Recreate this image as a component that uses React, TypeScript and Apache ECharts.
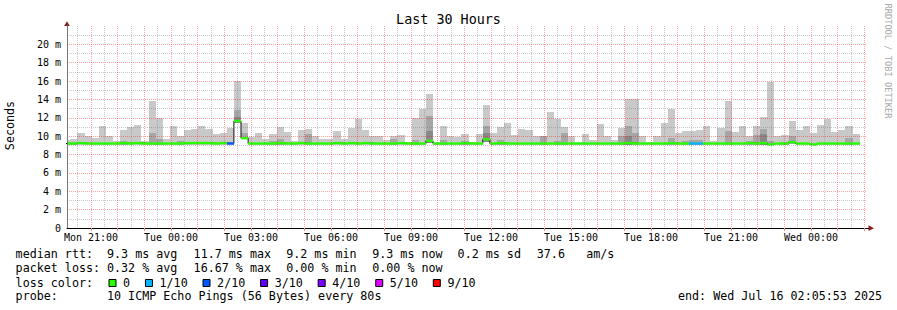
import React, { useEffect, useRef } from "react";
import * as echarts from "echarts";

// time axis in minutes since Mon 00:00
const START = 1205.883; // Mon 20:05:53
const END = START + 1800; // Wed 02:05:53
const STEP = 16; // minutes per consolidated bucket
const FIRST_BUCKET = 1197.383;

const xTickTimes = [1260, 1440, 1620, 1800, 1980, 2160, 2340, 2520, 2700, 2880];
const xTickLabels = ["Mon 21:00", "Tue 00:00", "Tue 03:00", "Tue 06:00", "Tue 09:00", "Tue 12:00", "Tue 15:00", "Tue 18:00", "Tue 21:00", "Wed 00:00"];

// smoke: top of the light grey (max ping), milliseconds
const smokeMax = [
  9.6, 9.7, 10.4, 10.0, 9.8, 11.1, 10.0, 9.45, 10.7, 10.95,
  11.2, 9.5, 13.85, 12.0, 9.7, 11.1, 10.0, 10.7, 10.8, 11.1,
  10.8, 10.2, 10.4, 10.85, 16.0, 11.45, 9.9, 10.3, 9.7, 10.25,
  10.95, 10.5, 9.45, 10.7, 10.8, 10.0, 9.7, 9.7, 10.6, 9.7,
  10.9, 11.9, 10.65, 10.0, 10.0, 9.6, 10.0, 10.1, 9.4, 12.0,
  13.0, 14.6, 9.35, 11.1, 10.0, 9.9, 10.2, 9.35, 10.2, 13.4,
  10.4, 10.95, 11.4, 10.1, 10.8, 10.65, 10.0, 10.0, 12.6, 11.9,
  10.95, 10.0, 9.35, 10.25, 9.6, 11.3, 10.0, 9.6, 10.9, 14.1,
  14.05, 10.0, 9.35, 10.0, 11.45, 13.0, 10.4, 10.55, 10.6, 10.7,
  11.1, 9.45, 10.85, 13.85, 10.5, 11.1, 10.0, 11.1, 12.1, 15.9,
  10.0, 10.1, 11.7, 10.7, 11.1, 10.4, 11.2, 11.85, 10.45, 10.7,
  11.1, 10.2,
];
// top of the mid grey band (0 = none)
const smokeMid = [
  9.4, 9.4, 0, 0, 0, 0, 0, 0, 9.5, 0,
  0, 0, 10.4, 9.7, 0, 0, 9.5, 0, 0, 0,
  0, 0, 0, 0, 12.8, 10.4, 0, 0, 0, 9.5,
  9.7, 0, 0, 0, 10.2, 0, 0, 0, 0, 0,
  0, 0, 0, 0, 0, 0, 9.7, 0, 0, 9.6,
  0, 12.2, 0, 9.6, 0, 0, 9.5, 0, 0, 11.1,
  0, 9.6, 0, 0, 0, 0, 0, 10.0, 0, 9.5,
  10.4, 0, 0, 0, 0, 0, 0, 0, 10.0, 11.1,
  10.4, 0, 0, 0, 0, 9.8, 0, 9.5, 9.6, 9.6,
  0, 0, 0, 10.6, 0, 0, 9.5, 10.1, 10.8, 9.5,
  0, 9.4, 10.0, 0, 0, 0, 0, 0, 0, 0,
  9.8, 0,
];
// top of the dark grey band (0 = none)
const smokeDark = [
  0, 0, 0, 0, 0, 0, 0, 0, 0, 0,
  0, 0, 0, 0, 0, 0, 0, 0, 0, 0,
  0, 0, 0, 0, 12.1, 0, 0, 0, 0, 0,
  0, 0, 0, 0, 0, 0, 0, 0, 0, 0,
  0, 0, 0, 0, 0, 0, 0, 0, 0, 0,
  0, 10.6, 0, 0, 0, 0, 0, 0, 0, 10.4,
  0, 0, 0, 0, 0, 0, 0, 0, 0, 0,
  0, 0, 0, 0, 0, 0, 0, 0, 0, 10.0,
  0, 0, 0, 0, 0, 0, 0, 0, 0, 0,
  0, 0, 0, 0, 0, 0, 0, 0, 10.2, 0,
  0, 0, 0, 0, 0, 0, 0, 0, 0, 0,
  0, 0,
];
// bottom of the smoke (min ping)
const smokeLo = [
  9.05, 9.05, 9.05, 9.05, 9.05, 9.05, 9.05, 9.05, 9.05, 9.05,
  9.05, 9.05, 9.05, 9.05, 9.05, 9.05, 9.05, 9.05, 9.05, 9.05,
  9.05, 9.05, 9.05, 9.05, 11.4, 9.7, 9.05, 9.05, 9.05, 9.05,
  9.05, 9.05, 9.05, 9.05, 9.05, 9.05, 9.05, 9.05, 9.05, 9.05,
  9.05, 9.05, 9.05, 9.05, 9.05, 9.05, 9.05, 9.05, 9.05, 9.05,
  9.05, 9.3, 9.05, 9.05, 9.05, 9.05, 9.05, 9.05, 9.05, 9.4,
  9.05, 9.05, 9.05, 9.05, 9.05, 9.05, 9.05, 9.05, 9.05, 9.05,
  9.05, 9.05, 9.05, 9.05, 9.05, 9.05, 9.05, 9.05, 9.05, 9.05,
  9.05, 9.05, 9.05, 9.05, 9.05, 9.05, 9.05, 9.05, 9.05, 9.05,
  9.05, 9.05, 9.05, 9.05, 9.05, 9.05, 9.05, 9.05, 9.05, 9.0,
  9.05, 9.05, 9.1, 9.05, 9.05, 9.0, 9.05, 9.05, 9.05, 9.05,
  9.05, 9.05,
];
// median rtt per bucket
const median = [
  9.2, 9.2, 9.25, 9.2, 9.2, 9.2, 9.2, 9.2, 9.25, 9.2,
  9.25, 9.2, 9.2, 9.2, 9.2, 9.2, 9.2, 9.25, 9.25, 9.25,
  9.25, 9.2, 9.25, 9.2, 11.65, 9.78, 9.2, 9.2, 9.2, 9.2,
  9.25, 9.2, 9.2, 9.25, 9.2, 9.2, 9.2, 9.2, 9.25, 9.2,
  9.25, 9.2, 9.25, 9.2, 9.2, 9.2, 9.2, 9.25, 9.2, 9.2,
  9.2, 9.5, 9.2, 9.2, 9.2, 9.2, 9.25, 9.2, 9.2, 9.66,
  9.2, 9.25, 9.2, 9.2, 9.2, 9.2, 9.2, 9.2, 9.2, 9.2,
  9.2, 9.2, 9.2, 9.2, 9.2, 9.2, 9.2, 9.2, 9.2, 9.25,
  9.2, 9.2, 9.2, 9.2, 9.2, 9.25, 9.2, 9.2, 9.2, 9.2,
  9.2, 9.2, 9.2, 9.2, 9.2, 9.2, 9.25, 9.2, 9.25, 9.1,
  9.2, 9.2, 9.35, 9.2, 9.2, 9.1, 9.2, 9.2, 9.2, 9.2,
  9.2, 9.2,
];
// packet loss level index per bucket (0 = none, 1 = 1/10, 2 = 2/10 ...)
const lossLevel = [
  0, 0, 0, 0, 0, 0, 0, 0, 0, 0,
  0, 0, 0, 0, 0, 0, 0, 0, 0, 0,
  0, 0, 0, 2, 0, 0, 0, 0, 0, 0,
  0, 0, 0, 0, 0, 0, 0, 0, 0, 0,
  0, 0, 0, 0, 0, 0, 0, 0, 0, 0,
  0, 0, 0, 0, 0, 0, 0, 0, 0, 0,
  0, 0, 0, 0, 0, 0, 0, 0, 0, 0,
  0, 0, 0, 0, 0, 0, 0, 0, 0, 0,
  0, 0, 0, 0, 0, 0, 0, 0, 1, 1,
  0, 0, 0, 0, 0, 0, 0, 0, 0, 0,
  0, 0, 0, 0, 0, 0, 0, 0, 0, 0,
  0, 0,
];

const lossColors = ["#26ff00", "#00b8ff", "#0059ff", "#5e00ff", "#7e00ff", "#dd00ff", "#ff0000"];
const lossLabels = ["0", "1/10", "2/10", "3/10", "4/10", "5/10", "9/10"];

const rttStats = ["9.3 ms avg", "11.7 ms max", "9.2 ms min", "9.3 ms now", "0.2 ms sd", "37.6", "am/s"];
const lossStats = ["0.32 % avg", "16.67 % max", "0.00 % min", "0.00 % now"];
const probeText = "10 ICMP Echo Pings (56 Bytes) every 80s";
const endText = "end: Wed Jul 16 02:05:53 2025";

// layout
const MONO = '"DejaVu Sans Mono", monospace';
const LEG_FS = 11.7;
const CHAR_W = LEG_FS * 0.602;
const statCols = [107, 193.6, 286.2, 372.2, 457.6, 536.8, 586.2];
const SMOKE_LIGHT = "#c9c9c9";
const SMOKE_MID = "#a6a6a6";
const SMOKE_DARK = "#888888";
const BAND = 0.13;
const MAJOR_GRID = "rgba(255,0,0,0.36)";
const MINOR_GRID = "rgba(110,110,110,0.38)";

export default function App() {
  const ref = useRef<HTMLDivElement>(null);
  useEffect(() => {
    if (!ref.current) return;
    const chart = echarts.init(ref.current, null, { renderer: "svg" });

    const smokeData = smokeMax.map((hi, k) => [FIRST_BUCKET + k * STEP, smokeLo[k], hi, smokeMid[k], smokeDark[k]]);
    const bandData = median.map((m, k) => [FIRST_BUCKET + k * STEP, m, lossLevel[k]]);
    const lineData = median.map((m, k) => [FIRST_BUCKET + k * STEP, m]);
    lineData.push([FIRST_BUCKET + median.length * STEP, median[median.length - 1]]);

    const hourTicks: number[] = [];
    for (let t = 1260; t <= END; t += 60) hourTicks.push(t);
    const halfTicks: number[] = [];
    for (let t = 1230; t <= END; t += 60) halfTicks.push(t);

    const span = (api: any, params: any, t: number) => {
      const cs = params.coordSys;
      let x0 = api.coord([t, 0])[0];
      let x1 = api.coord([t + STEP, 0])[0];
      x0 = Math.max(x0, cs.x);
      x1 = Math.min(x1, cs.x + cs.width);
      return [Math.round(x0), Math.round(x1)];
    };

    const txt = (text: string, x: number, y: number, extra: any = {}) => ({
      type: "text",
      x,
      y,
      silent: true,
      rotation: extra.rotation || 0,
      style: {
        text,
        font: `${extra.size || LEG_FS}px ${MONO}`,
        fill: extra.fill || "#000",
        textAlign: extra.align || "left",
        textVerticalAlign: "middle",
      },
    });

    const graphics: any[] = [];
    graphics.push(txt("Last 30 Hours", 448.5, 19, { size: 13.4, align: "center" }));
    graphics.push(txt("Seconds", 10, 125.5, { rotation: Math.PI / 2, align: "center" }));
    graphics.push(txt("RRDTOOL / TOBI OETIKER", 888, 61, { rotation: -Math.PI / 2, align: "center", size: 8.7, fill: "#a9a9a9" }));
    // axis arrows
    graphics.push({ type: "polygon", silent: true, shape: { points: [[67, 21.2], [64.2, 26], [69.8, 26]] }, style: { fill: "#8b1c1c" } });
    graphics.push({ type: "polygon", silent: true, shape: { points: [[874, 228.2], [868.5, 225.3], [868.5, 231.1]] }, style: { fill: "#8b1c1c" } });
    graphics.push({ type: "line", silent: true, shape: { x1: 866.5, y1: 228.5, x2: 869, y2: 228.5 }, style: { stroke: "#000", lineWidth: 1 } });

    // legend lines
    const L1 = 254.3, L2 = 268.3, L3 = 282.6, L4 = 296.3;
    graphics.push(txt("median rtt:", 15.6, L1));
    rttStats.forEach((s, i) => graphics.push(txt(s, statCols[i], L1)));
    graphics.push(txt("packet loss:", 15.6, L2));
    lossStats.forEach((s, i) => graphics.push(txt(s, statCols[i], L2)));
    graphics.push(txt("loss color:", 15.6, L3));
    let bx = 108.5;
    lossLabels.forEach((lab, i) => {
      graphics.push({
        type: "rect",
        silent: true,
        shape: { x: bx + 0.5, y: 279.5, width: 7, height: 7 },
        style: { fill: lossColors[i], stroke: "#000", lineWidth: 1 },
      });
      const lx = bx + 14.6;
      graphics.push(txt(lab, lx, L3));
      bx = lx + lab.length * CHAR_W + 14.8;
    });
    graphics.push(txt("probe:", 15.6, L4));
    graphics.push(txt(probeText, statCols[0], L4));
    graphics.push(txt(endText, 678, L4));

    const option: any = {
      animation: false,
      backgroundColor: "#ffffff",
      grid: { left: 67, right: 30, top: 26, bottom: 82, containLabel: false },
      xAxis: [
        {
          type: "value",
          min: START,
          max: END,
          axisLine: { show: true, onZero: false, lineStyle: { color: "#000", width: 1 } },
          axisTick: { show: true, customValues: hourTicks, length: 3, lineStyle: { color: "#e88" } },
          axisLabel: {
            customValues: xTickTimes,
            formatter: (v: number) => {
              const i = xTickTimes.findIndex((t) => Math.abs(t - v) < 0.5);
              return i >= 0 ? xTickLabels[i] : "";
            },
            fontFamily: MONO,
            fontSize: 10,
            color: "#000",
            margin: 4,
          },
          splitLine: { show: true, lineStyle: { color: MAJOR_GRID, type: [1, 1], width: 1 } },
        },
        {
          type: "value",
          min: START,
          max: END,
          position: "bottom",
          axisLine: { show: false },
          axisLabel: { show: false },
          axisTick: { show: false, customValues: halfTicks },
          splitLine: { show: true, lineStyle: { color: MINOR_GRID, type: [1, 1], width: 1 } },
        },
      ],
      yAxis: {
        type: "value",
        min: 0,
        max: 22,
        interval: 2,
        axisLine: { show: true, lineStyle: { color: "#777", width: 1 } },
        axisTick: { show: false },
        axisLabel: {
          formatter: (v: number) => (v === 0 ? "0" : `${v} m`),
          showMaxLabel: false,
          fontFamily: MONO,
          fontSize: 10,
          color: "#000",
          margin: 6,
        },
        splitLine: { show: true, showMinLine: false, showMaxLine: false, lineStyle: { color: MAJOR_GRID, type: [1, 1], width: 1 } },
        minorTick: { show: false, splitNumber: 2 },
        minorSplitLine: { show: true, lineStyle: { color: MINOR_GRID, type: [1, 1], width: 1 } },
      },
      graphic: graphics,
      series: [
        {
          type: "custom",
          z: -3,
          xAxisIndex: 0,
          encode: { x: 0, y: 2 },
          data: smokeData,
          renderItem: (params: any, api: any) => {
            const t = api.value(0);
            const [x0, x1] = span(api, params, t);
            if (x1 <= x0) return null;
            const yOf = (v: number) => Math.round(api.coord([t, v])[1]);
            const lo = api.value(1), hi = api.value(2), mid = api.value(3), dark = api.value(4);
            const children: any[] = [
              { type: "rect", shape: { x: x0, y: yOf(hi), width: x1 - x0, height: yOf(lo) - yOf(hi) }, style: { fill: SMOKE_LIGHT } },
            ];
            if (mid > 0) children.push({ type: "rect", shape: { x: x0, y: yOf(mid), width: x1 - x0, height: yOf(lo) - yOf(mid) }, style: { fill: SMOKE_MID } });
            if (dark > 0) children.push({ type: "rect", shape: { x: x0, y: yOf(dark), width: x1 - x0, height: yOf(lo) - yOf(dark) }, style: { fill: SMOKE_DARK } });
            return { type: "group", children };
          },
        },
        {
          type: "line",
          z: -2,
          xAxisIndex: 0,
          data: lineData,
          step: "end",
          symbol: "none",
          lineStyle: { color: "#111", width: 1 },
          silent: true,
        },
        {
          type: "custom",
          z: -1,
          xAxisIndex: 0,
          encode: { x: 0, y: 1 },
          data: bandData,
          renderItem: (params: any, api: any) => {
            const t = api.value(0);
            const [x0, x1] = span(api, params, t);
            if (x1 <= x0) return null;
            const m = api.value(1);
            const top = api.coord([t, m + BAND])[1];
            const bot = api.coord([t, m - BAND])[1];
            return {
              type: "rect",
              shape: { x: x0, y: top, width: x1 - x0, height: bot - top },
              style: { fill: lossColors[api.value(2)] },
            };
          },
        },
      ],
    };
    chart.setOption(option);
    return () => chart.dispose();
  }, []);
  return <div ref={ref} style={{ position: "fixed", left: 0, top: 0, width: 897, height: 310 }} />;
}
